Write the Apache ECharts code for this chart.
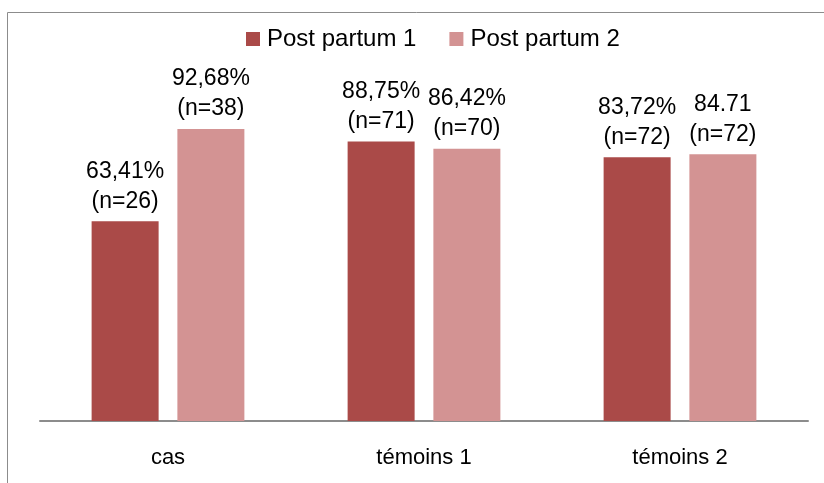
<!DOCTYPE html>
<html>
<head>
<meta charset="utf-8">
<script src="https://cdn.jsdelivr.net/npm/echarts@6/dist/echarts.min.js"></script>
<style>
  html, body { margin: 0; padding: 0; background: #fff; }
  #chart { width: 824px; height: 483px; }
</style>
</head>
<body>
<div id="chart"></div>
<script>
// catégories et valeurs (%)
var categories = ['cas', 'témoins 1', 'témoins 2'];
var seriesNames = ['Post partum 1', 'Post partum 2'];
var pp1Values = [63.41, 88.75, 83.72];
var pp2Values = [92.68, 86.42, 84.71];
var pp1Labels = ['63,41%\n(n=26)', '88,75%\n(n=71)', '83,72%\n(n=72)'];
var pp2Labels = ['92,68%\n(n=38)', '86,42%\n(n=70)', '84.71\n(n=72)'];

var FONT = 'Liberation Sans';

function barSeries(name, values, labels, color) {
  return {
    name: name,
    type: 'bar',
    barWidth: 67,
    barGap: '28%',
    data: values,
    itemStyle: { color: color },
    label: {
      show: true,
      position: 'top',
      distance: 5,
      color: '#000',
      fontFamily: FONT,
      fontSize: 23,
      lineHeight: 30,
      formatter: function (p) { return labels[p.dataIndex]; }
    }
  };
}

var chart = echarts.init(document.getElementById('chart'));
chart.setOption({
  backgroundColor: '#fff',
  animation: false,
  graphic: [{
    type: 'rect',
    shape: { x: 7.5, y: 12.5, width: 840, height: 500 },
    style: { fill: 'none', stroke: '#8c8c8c', lineWidth: 1 }
  }],
  legend: {
    data: seriesNames,
    top: 22,
    left: 241,
    itemWidth: 14,
    itemHeight: 14,
    itemGap: 33,
    icon: 'rect',
    textStyle: { color: '#000', fontFamily: FONT, fontSize: 24, padding: [0, 0, 0, 2] }
  },
  grid: {
    left: 40,
    right: 16,
    top: 106,
    bottom: 62
  },
  xAxis: {
    type: 'category',
    data: categories,
    axisLine: { lineStyle: { color: '#8c8c8c', width: 2 } },
    axisTick: { show: false },
    axisLabel: {
      color: '#000',
      fontFamily: FONT,
      fontSize: 22,
      margin: 26
    }
  },
  yAxis: {
    type: 'value',
    min: 0,
    max: 100,
    show: false,
    splitLine: { show: false }
  },
  series: [
    barSeries(seriesNames[0], pp1Values, pp1Labels, '#aa4a48'),
    barSeries(seriesNames[1], pp2Values, pp2Labels, '#d39393')
  ]
});
</script>
</body>
</html>
